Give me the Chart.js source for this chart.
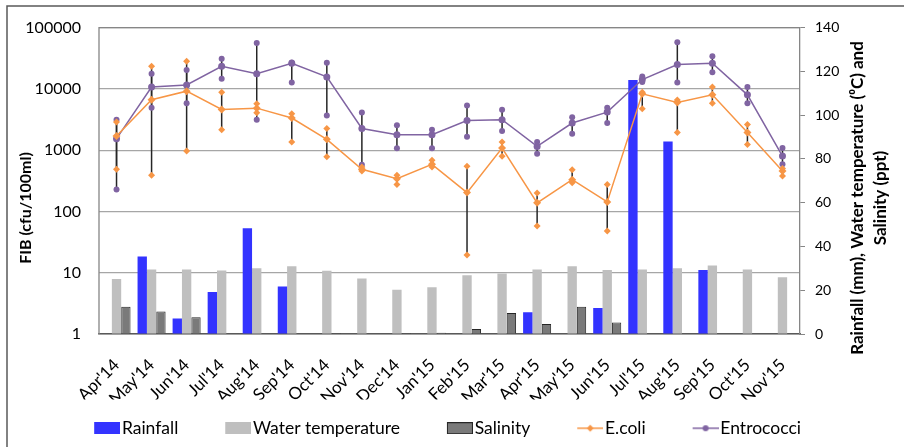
<!DOCTYPE html>
<html>
<head>
<meta charset="utf-8">
<script src="https://cdn.jsdelivr.net/npm/chart.js@4.4.1/dist/chart.umd.min.js"></script>
<style>
  html, body { margin: 0; padding: 0; background: #fff; }
</style>
</head>
<body>
<canvas id="mychart" width="904" height="447"></canvas>
<script>
// months on the x axis
const months = ["Apr'14", "May'14", "Jun'14", "Jul'14", "Aug'14", "Sep'14", "Oct'14", "Nov'14", "Dec'14", "Jan'15",
                "Feb'15", "Mar'15", "Apr'15", "May'15", "Jun'15", "Jul'15", "Aug'15", "Sep'15", "Oct'15", "Nov'15"];

// right axis series (mm, deg C, ppt)
const rainfall  = [null, 35.4, 7.1, 19.2, 48.3, 21.7, null, null, null, null, null, null, 9.9, null, 11.9, 116.1, 88.0, 29.2, null, null];
const waterTemp = [25.1, 29.5, 29.5, 29.0, 30.0, 31.0, 28.9, 25.4, 20.2, 21.4, 26.9, 27.7, 29.5, 31.0, 29.2, 29.5, 30.0, 31.3, 29.5, 25.9];
const salinity  = [12.5, 10.3, 7.6, null, null, null, 0.4, null, 0.4, 0.6, 2.3, 9.6, 4.6, 12.5, 5.2, null, null, null, null, null];

// left axis series (cfu/100ml), mean with min/max
const ecoli     = [1700, 6640, 9180, 4620, 4850, 3340, 1500, 487, 343, 587, 203, 1080, 138, 330, 143, 8320, 6010, 8000, 1950, 457];
const ecoliHigh = [2870, 23400, 28300, 8850, 5710, 3930, 2260, 532, 389, 682, 545, 1360, 200, 481, 274, 8850, 6600, 10700, 2630, 500];
const ecoliLow  = [487, 389, 968, 2160, 4080, 1360, 784, 457, 274, 532, 19.4, 793, 58, 295, 48, 4730, 1950, 5850, 1240, 378];
const entro     = [1540, 10700, 11600, 23400, 17600, 26200, 15700, 2260, 1790, 1790, 3050, 3140, 1150, 2770, 4180, 14200, 24900, 26200, 8000, 801];
const entroHigh = [3140, 17600, 20400, 30900, 56300, 27000, 26600, 4130, 2540, 2160, 5370, 4560, 1360, 3460, 4920, 15900, 57700, 34100, 10700, 1080];
const entroLow  = [227, 4920, 5850, 14600, 3140, 12700, 3690, 580, 1070, 1070, 1660, 2050, 877, 1850, 2770, 12900, 12700, 18700, 5850, 587];

const logTicks = [1, 10, 100, 1000, 10000, 100000];

const BLUE = '#3333ff', LGRAY = '#bfbfbf', DGRAY = '#7a7a7a', ORANGE = '#f79646', PURPLE = '#8064a2';

Chart.defaults.font.family = 'Lato';
Chart.defaults.color = '#000';

// legend pictures: transparent margin on the left, icon at the right end
function legendIcon(kind, color, border) {
  const c = document.createElement('canvas');
  c.width = 42; c.height = 12;
  const g = c.getContext('2d');
  const x0 = 16;
  if (kind === 'box') {
    g.fillStyle = color;
    g.fillRect(x0, 0, 26, 12);
    if (border) { g.strokeStyle = border; g.lineWidth = 1; g.strokeRect(x0 + 0.5, 0.5, 25, 11); }
  } else {
    g.strokeStyle = color; g.lineWidth = 1.5;
    g.beginPath(); g.moveTo(x0, 6); g.lineTo(x0 + 26, 6); g.stroke();
    g.fillStyle = color;
    g.beginPath();
    if (kind === 'diamond') { g.moveTo(x0 + 13, 2.5); g.lineTo(x0 + 16.5, 6); g.lineTo(x0 + 13, 9.5); g.lineTo(x0 + 9.5, 6); g.closePath(); }
    else { g.arc(x0 + 13, 6, 3, 0, Math.PI * 2); }
    g.fill();
  }
  return c;
}
const icons = [legendIcon('box', BLUE), legendIcon('box', LGRAY), legendIcon('box', DGRAY, '#262626'),
               legendIcon('diamond', ORANGE), legendIcon('circle', PURPLE)];

// vertical min-max lines
const errorBars = {
  id: 'errorBars',
  beforeDatasetsDraw(chart) {
    const ctx = chart.ctx, xs = chart.scales.x, ys = chart.scales.y;
    ctx.save();
    ctx.strokeStyle = '#262626';
    ctx.lineWidth = 1.5;
    [[ecoliLow, ecoliHigh], [entroLow, entroHigh]].forEach(function(pair) {
      pair[0].forEach(function(lo, i) {
        const px = xs.getPixelForValue(i);
        ctx.beginPath();
        ctx.moveTo(px, ys.getPixelForValue(lo));
        ctx.lineTo(px, ys.getPixelForValue(pair[1][i]));
        ctx.stroke();
      });
    });
    ctx.restore();
  }
};

// frame, plot border and the two axis titles
const frame = {
  id: 'frame',
  beforeDraw(chart) {
    const ctx = chart.ctx;
    ctx.save();
    ctx.fillStyle = '#fff';
    ctx.fillRect(0, 0, chart.width, chart.height);
    ctx.restore();
  },
  afterDraw(chart) {
    const ctx = chart.ctx, a = chart.chartArea;
    ctx.save();
    ctx.strokeStyle = '#868686';
    ctx.lineWidth = 1.3;
    ctx.beginPath();
    ctx.moveTo(a.left, a.bottom); ctx.lineTo(a.left, a.top); ctx.lineTo(a.right, a.top);
    ctx.stroke();
    ctx.strokeStyle = '#595959';
    ctx.lineWidth = 1.5;
    ctx.beginPath();
    ctx.moveTo(7, chart.height); ctx.lineTo(7, 6); ctx.lineTo(chart.width, 6);
    ctx.stroke();

    ctx.fillStyle = '#000';
    ctx.textAlign = 'center';
    ctx.textBaseline = 'middle';
    const titles = [['FIB (cfu/100ml)', 26, 208, 16],
                    ['Rainfall (mm), Water temperature (\u2070C) and', 858, 198, 17],
                    ['Salinity (ppt)', 881, 198, 17]];
    titles.forEach(function(t) {
      ctx.save();
      ctx.font = 'bold ' + t[3] + 'px Lato';
      ctx.translate(t[1], t[2]);
      ctx.rotate(-Math.PI / 2);
      ctx.fillText(t[0], 0, 0);
      ctx.restore();
    });
    ctx.restore();
  }
};

function markers(data, style, color, radius) {
  return {
    type: 'line', data: data, yAxisID: 'y', showLine: false, order: 0,
    pointStyle: style, pointRadius: radius, pointHoverRadius: radius,
    pointBackgroundColor: color, pointBorderColor: color, pointBorderWidth: 0
  };
}

const ctx = document.getElementById('mychart').getContext('2d');
const mychart = new Chart(ctx, {
  type: 'bar',
  data: {
    labels: months,
    datasets: [
      { label: 'Rainfall', data: rainfall, yAxisID: 'y1', backgroundColor: BLUE, order: 2 },
      { label: 'Water temperature', data: waterTemp, yAxisID: 'y1', backgroundColor: LGRAY, order: 2 },
      { label: 'Salinity', data: salinity, yAxisID: 'y1', backgroundColor: DGRAY, borderColor: '#262626', borderWidth: 1, order: 2 },
      { type: 'line', label: 'E.coli', data: ecoli, yAxisID: 'y', borderColor: ORANGE, backgroundColor: ORANGE, borderWidth: 1.5,
        pointStyle: 'rectRot', pointRadius: 4, pointBackgroundColor: ORANGE, pointBorderWidth: 0, tension: 0, order: 1 },
      { type: 'line', label: 'Entrococci', data: entro, yAxisID: 'y', borderColor: PURPLE, backgroundColor: PURPLE, borderWidth: 1.5,
        pointStyle: 'circle', pointRadius: 3.5, pointBackgroundColor: PURPLE, pointBorderWidth: 0, tension: 0, order: 1 },
      markers(ecoliHigh, 'rectRot', ORANGE, 3.5),
      markers(ecoliLow, 'rectRot', ORANGE, 3.5),
      markers(entroHigh, 'circle', PURPLE, 3),
      markers(entroLow, 'circle', PURPLE, 3)
    ]
  },
  options: {
    responsive: false,
    animation: false,
    layout: { padding: { top: 27, left: 0, right: 0, bottom: 0 } },
    datasets: { bar: { categoryPercentage: 0.8, barPercentage: 1.0 } },
    plugins: {
      tooltip: { enabled: false },
      legend: {
        position: 'bottom',
        labels: {
          font: { size: 17.5 },
          color: '#000',
          usePointStyle: true,
          pointStyleWidth: 28,
          boxHeight: 12,
          padding: 20,
          generateLabels: function(chart) {
            const items = Chart.defaults.plugins.legend.labels.generateLabels(chart)
              .filter(function(it) { return it.datasetIndex < 5; })
              .sort(function(a, b) { return a.datasetIndex - b.datasetIndex; });
            items.forEach(function(it) {
              it.pointStyle = icons[it.datasetIndex];
              it.rotation = 0;
              it.text = it.text + '    ';
            });
            return items;
          }
        }
      }
    },
    scales: {
      x: {
        grid: { display: false },
        border: { color: '#595959', width: 1.5 },
        ticks: { font: { size: 17 }, minRotation: 45, maxRotation: 45, autoSkip: false, padding: 13 },
        afterFit: function(s) { s.height = 65.5; }
      },
      y: {
        type: 'logarithmic',
        position: 'left',
        min: 1, max: 100000,
        afterBuildTicks: function(s) { s.ticks = logTicks.map(function(v) { return { value: v }; }); },
        ticks: { font: { size: 16 }, padding: 18, callback: function(v) { return String(v); } },
        grid: { color: '#a6a6a6', lineWidth: 1.3, drawTicks: false },
        border: { display: false },
        afterFit: function(s) { s.width = 99; }
      },
      y1: {
        position: 'right',
        min: 0, max: 140,
        ticks: { stepSize: 20, font: { size: 14 }, padding: 10 },
        grid: { drawOnChartArea: false, tickLength: 5, color: '#868686' },
        border: { color: '#868686', width: 1.3 },
        afterFit: function(s) { s.width = 104; }
      }
    }
  },
  plugins: [errorBars, frame]
});
</script>
</body>
</html>
